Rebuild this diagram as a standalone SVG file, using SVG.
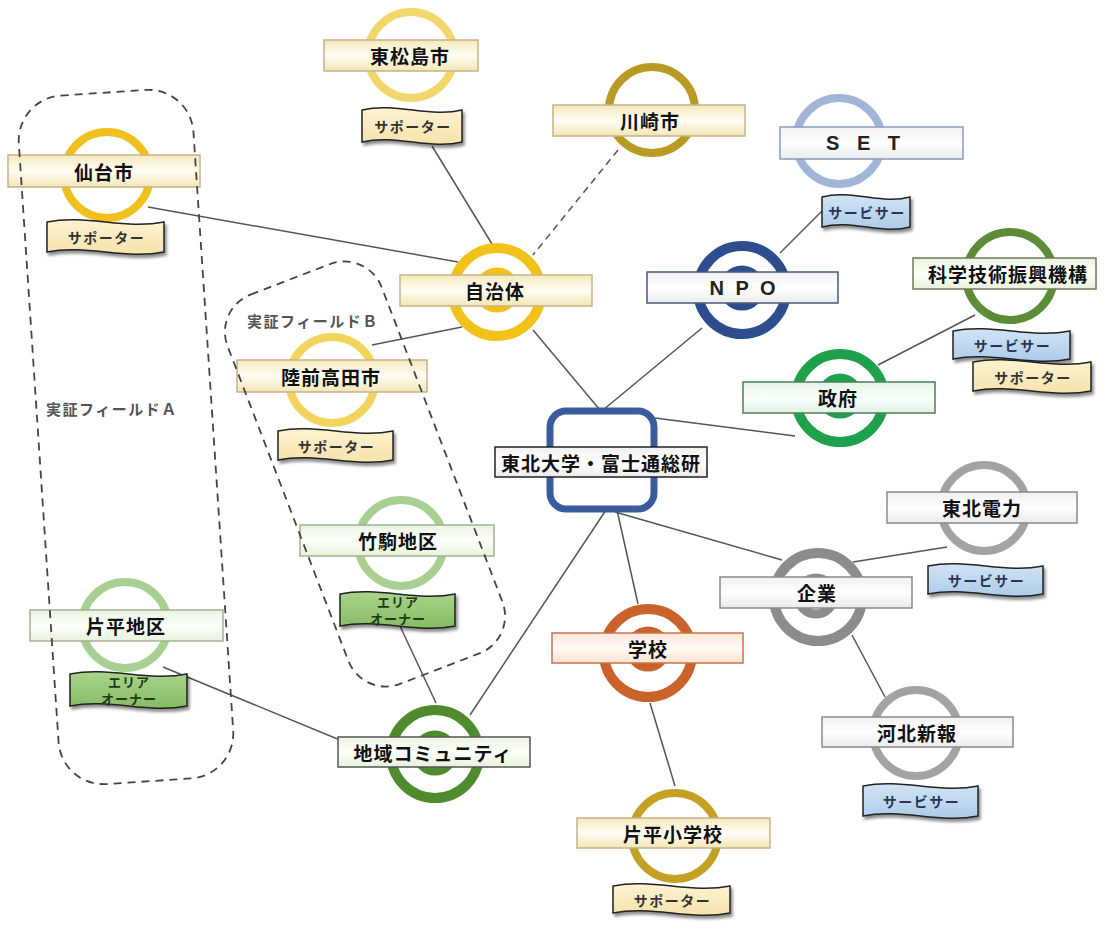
<svg xmlns="http://www.w3.org/2000/svg" width="1104" height="925" viewBox="0 0 1104 925">
<defs>
<filter id="sh" x="-10%" y="-30%" width="130%" height="170%"><feDropShadow dx="2" dy="3" stdDeviation="1.5" flood-color="#000" flood-opacity="0.45"/></filter>
<linearGradient id="gCream" x1="0" y1="0" x2="0" y2="1"><stop offset="0" stop-color="#f5e9bd"/><stop offset="0.5" stop-color="#fffdf4"/><stop offset="1" stop-color="#f3e6b6"/></linearGradient>
<linearGradient id="gGreen" x1="0" y1="0" x2="0" y2="1"><stop offset="0" stop-color="#ebf4e0"/><stop offset="0.5" stop-color="#fdfffa"/><stop offset="1" stop-color="#e8f2dc"/></linearGradient>
<linearGradient id="gWhite" x1="0" y1="0" x2="0" y2="1"><stop offset="0" stop-color="#f0f0f0"/><stop offset="0.5" stop-color="#ffffff"/><stop offset="1" stop-color="#ebebeb"/></linearGradient>
<linearGradient id="gOrange" x1="0" y1="0" x2="0" y2="1"><stop offset="0" stop-color="#fae6d8"/><stop offset="0.5" stop-color="#fffaf6"/><stop offset="1" stop-color="#f8e1d2"/></linearGradient>
<linearGradient id="gMint" x1="0" y1="0" x2="0" y2="1"><stop offset="0" stop-color="#e2f4e7"/><stop offset="0.5" stop-color="#fbfffc"/><stop offset="1" stop-color="#dff1e4"/></linearGradient>
<linearGradient id="gSup" x1="0" y1="0" x2="0" y2="1"><stop offset="0" stop-color="#fdf3d2"/><stop offset="1" stop-color="#f6e3ac"/></linearGradient>
<linearGradient id="gSvc" x1="0" y1="0" x2="0" y2="1"><stop offset="0" stop-color="#d2e4f5"/><stop offset="1" stop-color="#adcbea"/></linearGradient>
<linearGradient id="gArea" x1="0" y1="0" x2="0" y2="1"><stop offset="0" stop-color="#a9d48c"/><stop offset="1" stop-color="#86bb63"/></linearGradient>
</defs>
<style>
.lbl{font-family:"Noto Sans CJK JP","Noto Sans CJK SC",sans-serif;font-weight:700;font-size:19px;fill:#111;text-anchor:middle;dominant-baseline:central;letter-spacing:1px}
.lat{font-family:"Liberation Sans",Arial,sans-serif;font-weight:700;font-size:20px;fill:#222;text-anchor:middle;dominant-baseline:central;letter-spacing:6px}
.bt{font-family:"Noto Sans CJK JP","Noto Sans CJK SC",sans-serif;font-weight:700;font-size:14px;fill:#333;text-anchor:middle;dominant-baseline:central;letter-spacing:1.5px}
.bt2{font-family:"Noto Sans CJK JP","Noto Sans CJK SC",sans-serif;font-weight:700;font-size:13px;fill:#1f3a14;text-anchor:middle;dominant-baseline:central;letter-spacing:1px}
.conn{stroke:#555;stroke-width:1.5;fill:none}
.dash{stroke-dasharray:7 5}
.ban{stroke:#222;stroke-width:1.5;filter:url(#sh)}
.sup{fill:url(#gSup)}
.svc{fill:url(#gSvc)}
.area{fill:url(#gArea)}
.ring{fill:#fff}
.r1{stroke-width:8}
.ro{stroke-width:10}
.ri{stroke-width:9;fill:none}
.lc{fill:url(#gCream);stroke:#c4b487;stroke-width:1.5}
.lg{fill:url(#gGreen);stroke:#a3b092;stroke-width:1.5}
.lw{fill:url(#gWhite);stroke:#8a8a8a;stroke-width:1.5}
.lo{fill:url(#gOrange);stroke:#c87448;stroke-width:1.5}
.lm{fill:url(#gMint);stroke:#4f7d5a;stroke-width:1.5}
.region{fill:none;stroke:#444;stroke-width:1.8;stroke-dasharray:8 6}
.rl{font-family:"Noto Sans CJK JP","Noto Sans CJK SC",sans-serif;font-weight:700;font-size:15px;fill:#555;letter-spacing:1.5px;dominant-baseline:central}
</style>
<rect width="1104" height="925" fill="#fff"/>

<g id="connectors">
<line class="conn" x1="432" y1="146" x2="492" y2="244"/>
<line class="conn dash" x1="618" y1="150" x2="533" y2="255"/>
<line class="conn" x1="148" y1="207" x2="458" y2="262"/>
<line class="conn" x1="372" y1="345" x2="462" y2="327"/>
<line class="conn" x1="533" y1="330" x2="600" y2="410"/>
<line class="conn" x1="702" y1="328" x2="603" y2="410"/>
<line class="conn" x1="780" y1="253" x2="826" y2="207"/>
<line class="conn" x1="878" y1="365" x2="975" y2="315"/>
<line class="conn" x1="655" y1="418" x2="795" y2="436"/>
<line class="conn" x1="615" y1="512" x2="782" y2="560"/>
<line class="conn" x1="853" y1="562" x2="947" y2="547"/>
<line class="conn" x1="852" y1="635" x2="885" y2="697"/>
<line class="conn" x1="617" y1="510" x2="638" y2="604"/>
<line class="conn" x1="650" y1="703" x2="675" y2="786"/>
<line class="conn" x1="606" y1="510" x2="470" y2="715"/>
<line class="conn" x1="400" y1="626" x2="436" y2="703"/>
<line class="conn" x1="163" y1="667" x2="352" y2="745"/>
</g>

<g id="higashimatsushima">
<circle class="ring r1" cx="411" cy="55" r="43" stroke="#f2d86c"/>
<rect class="lc" x="324" y="40" width="154" height="31"/>
<text class="lbl" x="410" y="55.5">東松島市</text>
<path class="ban sup" d="M362,110 C396,102 430,118 462,110 L462,142 C430,150 396,134 362,142 Z"/>
<text class="bt" x="413" y="126">サポーター</text>
</g>

<g id="kawasaki">
<circle class="ring r1" cx="652" cy="110" r="43" stroke="#b99a24"/>
<rect class="lc" x="553" y="105" width="192" height="31"/>
<text class="lbl" x="650" y="120.5">川崎市</text>
</g>

<g id="set">
<circle class="ring r1" cx="839" cy="141" r="43" stroke="#a3b5d6"/>
<rect x="780" y="127" width="183" height="32" fill="url(#gWhite)" stroke="#8b9bbb" stroke-width="1.5"/>
<text class="lat" x="866" y="143">S E T</text>
<path class="ban svc" d="M822,197 C852,189 882,205 910,197 L910,227 C882,235 852,219 822,227 Z"/>
<text class="bt" x="867" y="212" style="fill:#2a3552">サービサー</text>
</g>

<g id="sendai">
<circle class="ring r1" cx="107" cy="175" r="43" stroke="#f0c11e"/>
<rect class="lc" x="8" y="155" width="192" height="32"/>
<text class="lbl" x="104" y="171">仙台市</text>
<path class="ban sup" d="M47,222 C86,214 125,230 164,222 L164,252 C125,260 86,244 47,252 Z"/>
<text class="bt" x="106.5" y="237">サポーター</text>
</g>

<g id="jichitai">
<circle class="ring ro" cx="497" cy="292" r="44" stroke="#f0c21a"/>
<circle class="ri" cx="497" cy="290" r="18" stroke="#f0c21a"/>
<rect class="lc" x="400" y="275" width="192" height="31"/>
<text class="lbl" x="495" y="290.5">自治体</text>
</g>

<g id="npo">
<circle class="ring ro" cx="742" cy="290" r="44" stroke="#2d4d8e"/>
<circle class="ri" cx="742" cy="288" r="18" stroke="#2d4d8e"/>
<rect x="647" y="272" width="191" height="31" fill="url(#gWhite)" stroke="#4a5a7a" stroke-width="1.5"/>
<text class="lat" x="744" y="288" style="letter-spacing:3px">N P O</text>
</g>

<g id="jst">
<circle class="ring r1" cx="1010" cy="276" r="44" stroke="#5e8b35"/>
<rect class="lg" x="913" y="258" width="183" height="31" style="stroke:#6d7a5a"/>
<text class="lbl" x="1008" y="273.5">科学技術振興機構</text>
<path class="ban svc" d="M953,331 C992,323 1031,339 1070,331 L1070,359 C1031,367 992,351 953,359 Z"/>
<text class="bt" x="1012.5" y="345" style="fill:#2a3552">サービサー</text>
<path class="ban sup" d="M973,362 C1012.3,354 1051.7,370 1091,362 L1091,391 C1051.7,399 1012.3,383 973,391 Z"/>
<text class="bt" x="1033" y="376.5">サポーター</text>
</g>

<g id="seifu">
<circle class="ring ro" cx="840" cy="398" r="44" stroke="#1ea04c"/>
<circle class="ri" cx="840" cy="396" r="18" stroke="#1ea04c"/>
<rect class="lm" x="743" y="382" width="192" height="31"/>
<text class="lbl" x="838" y="397.5">政府</text>
</g>

<g id="rikuzentakata">
<circle class="ring r1" cx="332" cy="380" r="43" stroke="#f2d35c"/>
<rect class="lc" x="237" y="360" width="190" height="32"/>
<text class="lbl" x="331" y="376">陸前高田市</text>
<path class="ban sup" d="M278,431 C316.3,423 354.7,439 393,431 L393,460 C354.7,468 316.3,452 278,460 Z"/>
<text class="bt" x="336.5" y="445.5">サポーター</text>
</g>

<g id="tohoku-univ">
<rect x="550" y="411" width="104" height="98" rx="16" fill="#fff" stroke="#3a5c9c" stroke-width="7"/>
<rect x="495" y="447" width="212" height="30" fill="url(#gWhite)" stroke="#222" stroke-width="1.5"/>
<text class="lbl" x="601" y="462">東北大学・富士通総研</text>
</g>

<g id="tohoku-electric">
<circle class="ring r1" cx="984" cy="508" r="43" stroke="#a3a3a3"/>
<rect class="lw" x="887" y="492" width="190" height="31"/>
<text class="lbl" x="982" y="507.5">東北電力</text>
<path class="ban svc" d="M928,566 C966.3,558 1004.7,574 1043,566 L1043,594 C1004.7,602 966.3,586 928,594 Z"/>
<text class="bt" x="986.5" y="580" style="fill:#2a3552">サービサー</text>
</g>

<g id="takekoma">
<circle class="ring r1" cx="401" cy="543" r="43" stroke="#aacf92"/>
<rect class="lg" x="300" y="525" width="194" height="31"/>
<text class="lbl" x="398" y="540.5">竹駒地区</text>
<path class="ban area" d="M340,594 C378.3,586 416.7,602 455,594 L455,626 C416.7,634 378.3,618 340,626 Z"/>
<text class="bt2" x="398" y="601">エリア</text>
<text class="bt2" x="398" y="618">オーナー</text>
</g>

<g id="kigyo">
<circle class="ring ro" cx="818" cy="597" r="44" stroke="#8c8c8c"/>
<circle class="ri" cx="816" cy="596" r="18" stroke="#8c8c8c"/>
<rect class="lw" x="720" y="577" width="192" height="31"/>
<text class="lbl" x="817" y="592.5">企業</text>
</g>

<g id="katahira">
<circle class="ring r1" cx="125" cy="625" r="43" stroke="#aacf92"/>
<rect class="lg" x="30" y="610" width="193" height="31"/>
<text class="lbl" x="126" y="625.5">片平地区</text>
<path class="ban area" d="M70,674 C109,666 148,682 187,674 L187,706 C148,714 109,698 70,706 Z"/>
<text class="bt2" x="129" y="681">エリア</text>
<text class="bt2" x="129" y="698">オーナー</text>
</g>

<g id="gakko">
<circle class="ring ro" cx="648" cy="653" r="44" stroke="#c9622b"/>
<circle class="ri" cx="648" cy="649" r="18" stroke="#c9622b"/>
<rect class="lo" x="552" y="633" width="191" height="30"/>
<text class="lbl" x="648" y="648">学校</text>
</g>

<g id="community">
<circle class="ring ro" cx="435" cy="754" r="44" stroke="#4f8a2f"/>
<circle class="ri" cx="435" cy="753" r="18" stroke="#4f8a2f"/>
<rect class="lg" x="338" y="737" width="192" height="30" style="stroke:#555"/>
<text class="lbl" x="433" y="752">地域コミュニティ</text>
</g>

<g id="kahoku">
<circle class="ring r1" cx="916" cy="733" r="43" stroke="#a3a3a3"/>
<rect class="lw" x="822" y="717" width="191" height="30"/>
<text class="lbl" x="917" y="732">河北新報</text>
<path class="ban svc" d="M863,786 C901.3,778 939.7,794 978,786 L978,816 C939.7,824 901.3,808 863,816 Z"/>
<text class="bt" x="921.5" y="801" style="fill:#2a3552">サービサー</text>
</g>

<g id="katahira-school">
<circle class="ring r1" cx="675" cy="836" r="43" stroke="#c3a124"/>
<rect class="lc" x="577" y="818" width="193" height="30"/>
<text class="lbl" x="673" y="833">片平小学校</text>
<path class="ban sup" d="M613,886 C652,878 691,894 730,886 L730,913 C691,921 652,905 613,913 Z"/>
<text class="bt" x="672.5" y="899.5">サポーター</text>
</g>

<g id="field-a">
<rect class="region" x="-87.5" y="-345" width="175" height="690" rx="45" transform="translate(126,437) rotate(-3.8)"/>
<text class="rl" x="46" y="408">実証フィールドＡ</text>
</g>
<g id="field-b">
<rect class="region" x="-82.5" y="-208.5" width="165" height="417" rx="40" transform="translate(365,474) rotate(-21)"/>
<text class="rl" x="247" y="320">実証フィールドＢ</text>
</g>
</svg>
